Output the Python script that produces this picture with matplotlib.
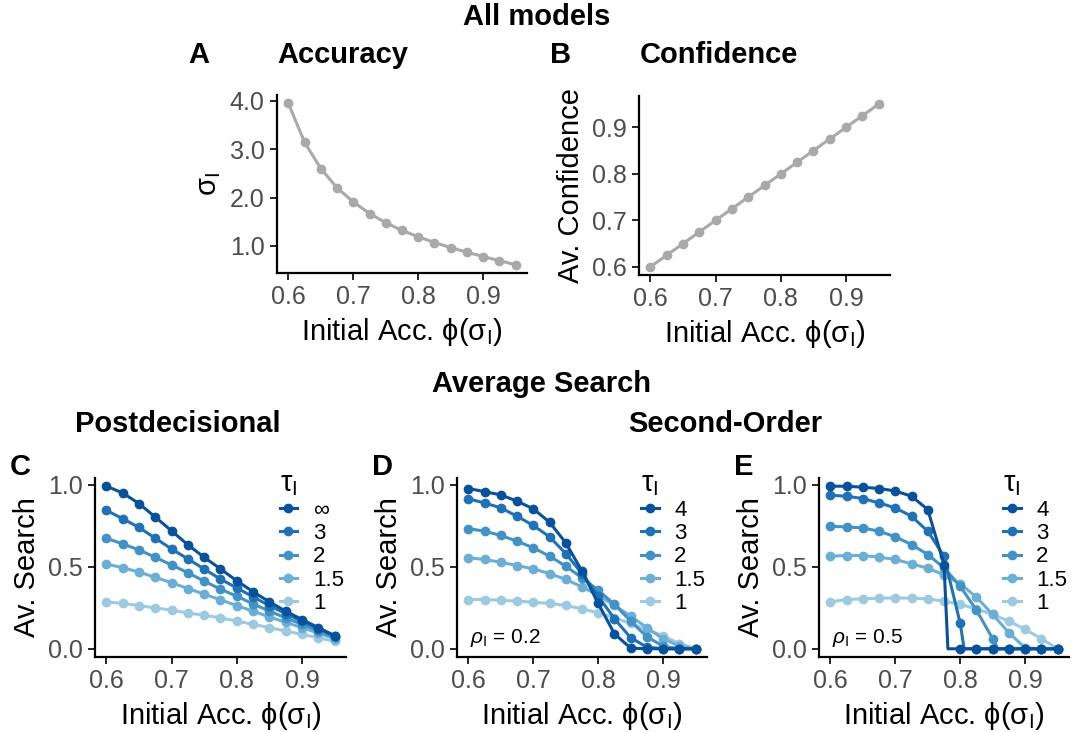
import matplotlib
matplotlib.use("Agg")
import matplotlib.pyplot as plt
from matplotlib.lines import Line2D

plt.rcParams['font.family'] = ['Liberation Sans', 'DejaVu Sans']
plt.rcParams['mathtext.fontset'] = 'custom'
plt.rcParams['mathtext.rm'] = 'Liberation Sans'
plt.rcParams['mathtext.it'] = 'Liberation Sans:italic'
plt.rcParams['mathtext.bf'] = 'Liberation Sans:bold'

# initial accuracy grid shared by all panels
acc = [0.6, 0.625, 0.65, 0.675, 0.7, 0.725, 0.75, 0.775, 0.8, 0.825, 0.85, 0.875, 0.9, 0.925, 0.95]

# panel A / B
sigma = [3.95, 3.14, 2.60, 2.20, 1.91, 1.67, 1.48, 1.32, 1.19, 1.07, 0.965, 0.87, 0.78, 0.695, 0.61]
confidence = [0.6, 0.625, 0.65, 0.675, 0.7, 0.725, 0.75, 0.775, 0.8, 0.825, 0.85, 0.875, 0.9, 0.925, 0.95]

# panel C, postdecisional search by tau
tau_post = ['∞', '3', '2', '1.5', '1']
post = {
    '∞': [0.99, 0.949, 0.884, 0.802, 0.718, 0.633, 0.557, 0.486, 0.414, 0.347, 0.286, 0.229, 0.178, 0.129, 0.080],
    '3': [0.843, 0.792, 0.739, 0.673, 0.608, 0.547, 0.486, 0.424, 0.371, 0.316, 0.263, 0.214, 0.167, 0.122, 0.076],
    '2': [0.673, 0.639, 0.602, 0.557, 0.510, 0.463, 0.412, 0.363, 0.320, 0.273, 0.229, 0.188, 0.149, 0.110, 0.069],
    '1.5': [0.516, 0.494, 0.467, 0.435, 0.402, 0.367, 0.333, 0.298, 0.263, 0.229, 0.194, 0.161, 0.129, 0.096, 0.061],
    '1': [0.286, 0.276, 0.263, 0.249, 0.235, 0.218, 0.204, 0.188, 0.169, 0.149, 0.129, 0.108, 0.088, 0.067, 0.045],
}

# panels D / E, second-order search by tau
tau_so = ['4', '3', '2', '1.5', '1']
so_02 = {
    '4': [0.976, 0.957, 0.937, 0.899, 0.852, 0.771, 0.645, 0.473, 0.276, 0.091, 0.004, 0.0, 0.0, 0.0, 0.0],
    '3': [0.913, 0.888, 0.858, 0.807, 0.751, 0.682, 0.580, 0.458, 0.320, 0.183, 0.067, 0.010, 0.0, 0.0, 0.0],
    '2': [0.732, 0.716, 0.690, 0.655, 0.615, 0.564, 0.503, 0.432, 0.357, 0.270, 0.168, 0.073, 0.016, 0.0, 0.0],
    '1.5': [0.554, 0.544, 0.527, 0.507, 0.487, 0.458, 0.422, 0.377, 0.325, 0.264, 0.199, 0.128, 0.061, 0.016, 0.0],
    '1': [0.300, 0.300, 0.296, 0.290, 0.284, 0.276, 0.264, 0.243, 0.219, 0.189, 0.154, 0.118, 0.077, 0.032, 0.0],
}
so_05 = {
    '4': [0.99, 0.99, 0.984, 0.976, 0.961, 0.929, 0.848, 0.513, 0.0, 0.0, 0.0, 0.0, 0.0, 0.0, 0.0],
    '3': [0.935, 0.929, 0.915, 0.888, 0.858, 0.807, 0.716, 0.564, 0.154, 0.0, 0.0, 0.0, 0.0, 0.0, 0.0],
    '2': [0.746, 0.742, 0.736, 0.716, 0.682, 0.635, 0.574, 0.493, 0.381, 0.235, 0.061, 0.0, 0.0, 0.0, 0.0],
    '1.5': [0.564, 0.568, 0.568, 0.558, 0.544, 0.517, 0.491, 0.450, 0.396, 0.314, 0.209, 0.097, 0.006, 0.0, 0.0],
    '1': [0.286, 0.300, 0.304, 0.308, 0.310, 0.308, 0.304, 0.290, 0.270, 0.243, 0.209, 0.168, 0.118, 0.061, 0.0],
}
# where the rho = 0.5 curves hit zero between grid points
so_05_zero = {'4': 0.781, '3': 0.806, '2': 0.858}

blues = ['#08519c', '#2171b5', '#4292c6', '#6baed6', '#9ecae1']
grey = '#a9a9a9'
LW, MS = 2.2, 6

W, H = 1074, 732
fig = plt.figure(figsize=(W / 100, H / 100), dpi=100)


def px_axes(l, t, r, b):
    return fig.add_axes([l / W, 1 - b / H, (r - l) / W, (b - t) / H])


def px_text(x, y, s, **kw):
    fig.text(x / W, 1 - y / H, s, va='baseline', **kw)


xlab = r'Initial Acc. $\mathrm{\phi(\sigma_I)}$'


def style(ax, ylabel):
    for side in ['top', 'right']:
        ax.spines[side].set_visible(False)
    for side in ['left', 'bottom']:
        ax.spines[side].set_linewidth(1.6)
    ax.tick_params(width=1.2, length=5, labelsize=18, labelcolor='#4d4d4d', pad=4)
    ax.set_xlim(0.5825, 0.9675)
    ax.set_xticks([0.6, 0.7, 0.8, 0.9])
    ax.set_xticklabels(['0.6', '0.7', '0.8', '0.9'])
    ax.set_xlabel(xlab, fontsize=21, labelpad=5)
    ax.set_ylabel(ylabel, fontsize=21, labelpad=5)
    ax.patch.set_alpha(0)


def add_legend(ax, labels):
    handles = [Line2D([], [], color=c, lw=LW, marker='o', markersize=MS) for c in blues]
    leg = ax.legend(handles, labels, title=r'$\mathrm{\tau_I}$', loc='upper left',
                    bbox_to_anchor=(0.7, 1.1), frameon=False, fontsize=16,
                    title_fontsize=21, handlelength=0.8, handletextpad=0.7,
                    labelspacing=0.1, borderaxespad=0)
    leg._legend_box.align = 'left'


# A: sigma vs initial accuracy
axA = px_axes(277, 95, 527, 273)
axA.plot(acc, sigma, color=grey, lw=LW, marker='o', markersize=MS)
style(axA, r'$\mathrm{\sigma_I}$')
axA.set_ylim(0.44, 4.12)
axA.set_yticks([1, 2, 3, 4])
axA.set_yticklabels(['1.0', '2.0', '3.0', '4.0'])

# B: confidence
axB = px_axes(639, 96, 890, 275)
axB.plot(acc, confidence, color=grey, lw=LW, marker='o', markersize=MS)
style(axB, 'Av. Confidence')
axB.set_ylim(0.5825, 0.9675)
axB.set_yticks([0.6, 0.7, 0.8, 0.9])
axB.set_yticklabels(['0.6', '0.7', '0.8', '0.9'])


def search_panel(ax):
    style(ax, 'Av. Search')
    ax.set_ylim(-0.05, 1.04)
    ax.set_yticks([0, 0.5, 1])
    ax.set_yticklabels(['0.0', '0.5', '1.0'])


# C: postdecisional
axC = px_axes(95, 478, 346, 657)
for tau, c in reversed(list(zip(tau_post, blues))):
    axC.plot(acc, post[tau], color=c, lw=LW, marker='o', markersize=MS)
search_panel(axC)
add_legend(axC, tau_post)

# D: second-order, rho = 0.2
axD = px_axes(457, 478, 707, 657)
for tau, c in reversed(list(zip(tau_so, blues))):
    axD.plot(acc, so_02[tau], color=c, lw=LW, marker='o', markersize=MS)
search_panel(axD)
add_legend(axD, tau_so)
axD.text(0.603, 0.035, r'$\rho_{\mathrm{I}}$ = 0.2', fontsize=15)

# E: second-order, rho = 0.5
axE = px_axes(819, 478, 1069, 657)
for tau, c in reversed(list(zip(tau_so, blues))):
    ys = so_05[tau]
    lx, ly = list(acc), list(ys)
    if tau in so_05_zero:
        k = next(i for i, v in enumerate(ys) if v == 0)
        lx = acc[:k] + [so_05_zero[tau]] + acc[k:]
        ly = ys[:k] + [0.0] + ys[k:]
    axE.plot(lx, ly, color=c, lw=LW)
    axE.plot(acc, ys, color=c, lw=0, marker='o', markersize=MS)
search_panel(axE)
add_legend(axE, tau_so)
axE.text(0.603, 0.035, r'$\rho_{\mathrm{I}}$ = 0.5', fontsize=15)

# titles and panel letters
bold = dict(fontsize=21, fontweight='bold')
px_text(537, 25, 'All models', ha='center', **bold)
px_text(188, 63, 'A', **bold)
px_text(277, 63, 'Accuracy', **bold)
px_text(550, 63, 'B', **bold)
px_text(640, 63, 'Confidence', **bold)
px_text(541, 392, 'Average Search', ha='center', **bold)
px_text(75, 432, 'Postdecisional', **bold)
px_text(628, 432, 'Second-Order', **bold)
px_text(10, 475, 'C', **bold)
px_text(372, 475, 'D', **bold)
px_text(734, 475, 'E', **bold)

fig.savefig('out.png', dpi=100)
